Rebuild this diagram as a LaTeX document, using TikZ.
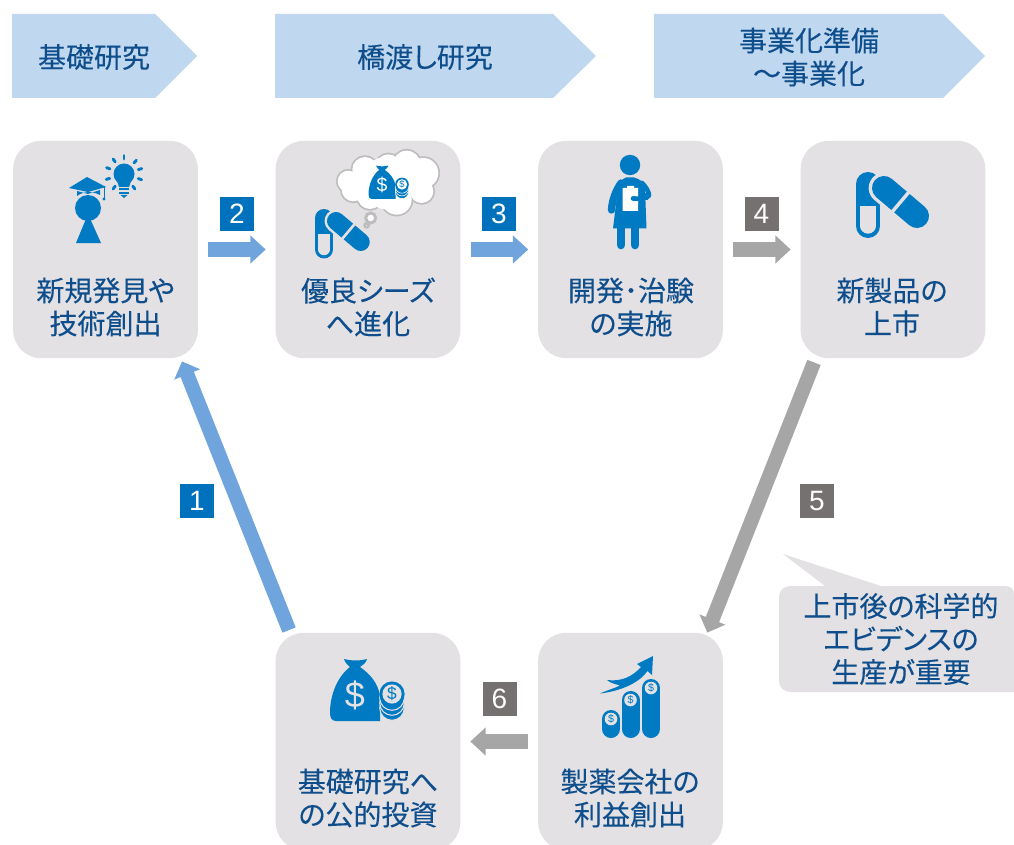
\documentclass[tikz,border=0pt]{standalone}
\usepackage{fontspec}
\usetikzlibrary{arrows.meta}
\setmainfont[RawFeature={+palt},FakeBold=0.15]{Noto Sans CJK JP}
\newfontfamily\latinf{Liberation Sans}
\definecolor{boxg}{HTML}{E3E1E3}
\definecolor{headb}{HTML}{C0D8EF}
\definecolor{icon}{HTML}{007AC2}
\definecolor{txtb}{HTML}{0F4E8C}
\definecolor{arrb}{HTML}{6FA5DC}
\definecolor{arrg}{HTML}{A6A6A6}
\definecolor{badb}{HTML}{0071BC}
\definecolor{badg}{HTML}{757170}
\definecolor{cloudl}{HTML}{BDBDBD}
\tikzset{
  stage/.style={rectangle,fill=boxg,rounded corners=21pt,minimum width=138.5pt,minimum height=163pt,inner sep=0pt},
  txt/.style={text=txtb,align=center,inner sep=0pt,font=\fontsize{21}{24.75}\selectfont},
  head/.style={fill=headb},
  badge/.style={minimum width=25.5pt,minimum height=25.5pt,inner sep=0pt,text=white,font=\latinf\fontsize{21}{21}\selectfont},
  barrow/.style={line width=11.2pt,arrb,-{Triangle[length=11.5pt,width=20.5pt]}},
  garrow/.style={line width=11.2pt,arrg,-{Triangle[length=11.5pt,width=20.5pt]}},
  slant/.style={line width=10.7pt,-{Triangle[length=10.5pt,width=20.3pt]}}
}
\newcommand{\capsulepair}[3]{%
  \begin{scope}[shift={(#1,#2)},x=#3*0.75pt,y=-#3*0.75pt]
    \draw[icon,line width=#3*18pt,line cap=round] (12,12) -- (12,54);
    \draw[boxg,line width=#3*11.5pt,line cap=round] (12,42) -- (12,54);
    \fill[boxg] (4.4,34) rectangle (19.6,42);
    \draw[boxg,line width=#3*23pt,line cap=round] (28,16) -- (61,44);
    \draw[icon,line width=#3*18pt,line cap=round] (28,16) -- (61,44);
    \draw[boxg,line width=#3*2.6pt] (36.4,39.6) -- (52.6,20.4);
  \end{scope}}
\newcommand{\moneybag}[4]{%
  \begin{scope}[shift={(#1,#2)},x=#3*0.75pt,y=-#3*0.75pt]
    \fill[icon] (-11,-62) .. controls (-4,-60) and (4,-60) .. (12,-62) .. controls (11,-58) and (8,-56) .. (5,-54)
      .. controls (15,-47) and (23,-38) .. (25,-25) -- (25,0) -- (-19,0)
      .. controls (-23,0) and (-25,-3) .. (-25,-8)
      .. controls (-25,-27) and (-17,-45) .. (-5,-54)
      .. controls (-7,-56) and (-10,-58) .. (-11,-62) -- cycle;
    \node[text=#4,inner sep=0pt,scale=#3,font=\latinf\fontsize{27}{27}\selectfont] (#1bagd) at (0,-26) {\$};
    \foreach \yy in {-13,-18,-23}
      \draw[fill=icon,draw=#4,line width=#3*0.8pt] (37,\yy) circle [radius=12.3];
    \fill[icon] (37,-27) circle [radius=12.6];
    \fill[#4] (37,-27) circle [radius=9.6];
    \node[text=icon,inner sep=0pt,scale=#3,font=\latinf\fontsize{13}{13}\selectfont] (#1bagc) at (37,-27) {\$};
  \end{scope}}
\newcommand{\coincol}[4]{% x, top y, bottom y, name
  \draw[icon,line width=13.5pt,line cap=round] (#1,#2) -- (#1,#3);
  \fill[boxg] (#1,#2) circle [radius=6.3];
  \node[text=icon,inner sep=0pt,font=\latinf\fontsize{8}{8}\selectfont] (#4) at (#1,#2) {\$};}
\begin{document}
\begin{tikzpicture}[x=0.75pt,y=-0.75pt]
\useasboundingbox (0,0) rectangle (1014,845);
% headers
\fill[head] (12,14) -- (155,14) -- (197,56) -- (155,98) -- (12,98) -- cycle;
\fill[head] (275,14) -- (553,14) -- (596,56) -- (553,98) -- (275,98) -- cycle;
\fill[head] (654,14) -- (943,14) -- (985,56) -- (943,98) -- (654,98) -- cycle;
\node[txt] (h1) at (94,57) {基礎研究};
\node[txt] (h2) at (425,57) {橋渡し研究};
\node[txt] (h3) at (809,57) {事業化準備\\～事業化};
% stages
\node[stage] (b1) at (105.5,249.5) {};
\node[stage] (b2) at (368,249.5) {};
\node[stage] (b3) at (630.5,249.5) {};
\node[stage] (b4) at (893,249.5) {};
\node[stage] (b5) at (630.5,741.5) {};
\node[stage] (b6) at (368,741.5) {};
\node[txt] (t1) at (105.5,307) {新規発見や\\技術創出};
\node[txt] (t2) at (368,307) {優良シーズ\\へ進化};
\node[txt] (t3) at (631,307) {開発･治験\\の実施};
\node[txt] (t4) at (892,307) {新製品の\\上市};
\node[txt] (t5) at (630,798) {製薬会社の\\利益創出};
\node[txt] (t6) at (368,798) {基礎研究へ\\の公的投資};
% connectors
\draw[barrow] (b1.east) ++(7.5pt,0) -- ([xshift=-7.3pt]b2.west);
\draw[barrow] (b2.east) ++(7.5pt,0) -- ([xshift=-7.3pt]b3.west);
\draw[garrow] (b3.east) ++(7.5pt,0) -- ([xshift=-7.3pt]b4.west);
\draw[garrow] (b5.west) ++(-7.5pt,0) -- ([xshift=7.3pt]b6.east);
\draw[barrow,slant] ([xshift=-59.2pt,yshift=1.9pt]b6.north) -- ([xshift=57.4pt,yshift=-2.25pt]b1.south);
\draw[garrow,slant] ([xshift=-59.25pt,yshift=-3pt]b4.south) -- ([xshift=57.6pt]b5.north);
% badges
\node[badge,fill=badb] (n1) at (197,501) {1};
\node[badge,fill=badb] (n2) at (237,214) {2};
\node[badge,fill=badb] (n3) at (499,214) {3};
\node[badge,fill=badg] (n4) at (761.5,214) {4};
\node[badge,fill=badg] (n5) at (817,501) {5};
\node[badge,fill=badg] (n6) at (499.5,699) {6};
% callout
\fill[boxg] (783,554) -- (881,586) -- (1004,586)
  .. controls (1010,586) and (1014,588) .. (1014,594) -- (1014,692) -- (791,692)
  .. controls (784,692) and (779,688) .. (779,681) -- (779,597)
  .. controls (779,590) and (784,586) .. (791,586) -- (825,586) -- cycle;
\node[txt] (c1) at (901,639) {上市後の科学的\\エビデンスの\\生産が重要};
% icon: graduate and bulb
\fill[icon] (88,208) circle [radius=13];
\fill[icon] (88,214) -- (101,243) -- (76,243) -- cycle;
\fill[icon] (87,177) -- (106,187) -- (88,192) -- (69,188) -- cycle;
\fill[icon] (77,191) -- (88,194) -- (100,190) -- (100,195) .. controls (92,191) and (84,191) .. (77,196) -- cycle;
\draw[icon,line width=0.7pt] (104,186) -- (104,199);
\fill[icon] (104,199) circle [radius=1.7];
\fill[icon] (124,174) circle [radius=10.5];
\fill[icon] (117,181) -- (131,181) -- (129,187) -- (119,187) -- cycle;
\fill[icon] (119,188.5) rectangle (129,190.5);
\fill[icon] (119,192) rectangle (129,194);
\fill[icon] (120.5,195) -- (127.5,195) -- (124,198) -- cycle;
\foreach \a in {90,48,17,-18,-54,126,160,197,234}
  \draw[icon,line width=2.2pt,line cap=round] (124,174) ++({cos(\a)*15},{-sin(\a)*15}) -- ++({cos(\a)*3.5},{-sin(\a)*3.5});
% icon: thought cloud, capsules
\capsulepair{315}{209}{0.75}
\begin{scope}[shift={(310,148)},x=0.25pt,y=-0.25pt]
  \foreach \cx/\cy/\r in {115/100/32,165/65/38,235/55/36,290/50/42,340/75/45,335/130/35,260/155/45,180/145/38,130/125/35}
    \draw[cloudl,line width=2.6pt] (\cx,\cy) circle [radius=\r];
  \foreach \cx/\cy/\r in {115/100/32,165/65/38,235/55/36,290/50/42,340/75/45,335/130/35,260/155/45,180/145/38,130/125/35}
    \fill[white] (\cx,\cy) circle [radius=\r];
  \fill[white] (235,105) circle [radius=80];
  \draw[cloudl,fill=white,line width=2.2pt] (182,210) circle [radius=15];
  \draw[cloudl,fill=white,line width=2pt] (170,232) circle [radius=6];
\end{scope}
\moneybag{382}{199}{0.54}{white}
% icon: woman
\fill[icon] (630,165) circle [radius=10.2];
\fill[icon] (626,177.5) -- (634,177.5) .. controls (640,179) and (644,182) .. (645,188) -- (646.5,228.5) -- (613,228.5) -- (618,188) .. controls (619,182) and (622,179) .. cycle;
\draw[icon,line width=5.5pt,line cap=round] (621,183) .. controls (616,190) and (612,200) .. (611.5,210);
\draw[icon,line width=6.5pt,line cap=round] (621,228) -- (621,245);
\draw[icon,line width=6.5pt,line cap=round] (635,228) -- (635,245);
\fill[white] (622.5,188) -- (627,188) -- (627,186) -- (634,186) -- (634,188) -- (638,188) -- (638,211) -- (622.5,211) -- cycle;
\draw[icon,line width=3.5pt,line cap=round,line join=round] (642,183) .. controls (646,187) and (649,192) .. (649,195.5) .. controls (647,198.5) and (640,199) .. (633,198.5);
\fill[icon] (638.5,193) rectangle (648,200);
% icon: capsules large
\capsulepair{856}{172}{1}
% icon: money bag large
\moneybag{355}{721}{1}{boxg}
% icon: growth chart
\coincol{611}{719}{729}{cc1}
\coincol{630.5}{700}{729}{cc2}
\coincol{651}{688}{729}{cc3}
\fill[icon] (607,680) .. controls (622,682) and (633,676) .. (641,667) -- (637,664) -- (653,656) -- (652,675) -- (647.5,671)
  .. controls (640,682) and (622,691) .. (600,693.5) .. controls (608,690) and (615,688) .. (620,685.5) .. controls (615,684) and (610,683) .. (607,680) -- cycle;
\end{tikzpicture}
\end{document}
